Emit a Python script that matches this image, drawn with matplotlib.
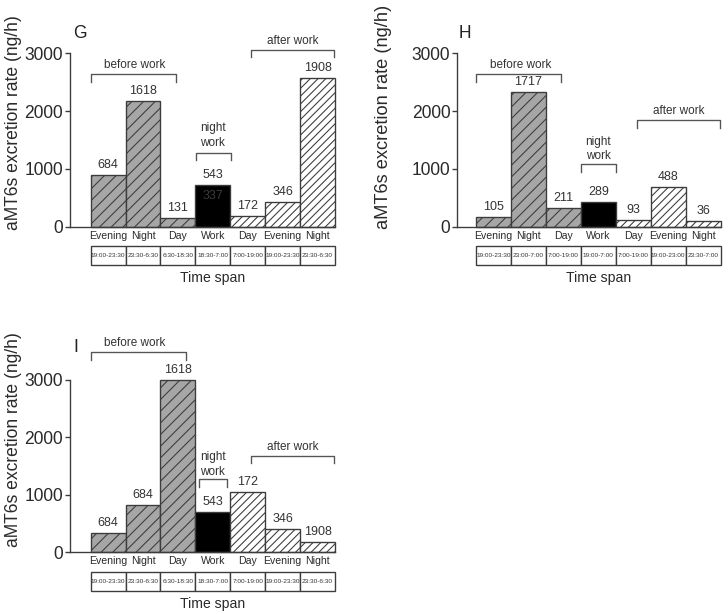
import matplotlib
matplotlib.use("Agg")
import matplotlib.pyplot as plt
from matplotlib.patches import Rectangle

W, H, DPI = 728, 614, 140

def pt(px):
    # pixel size -> points at this dpi
    return px * 72.0 / DPI

plt.rcParams['font.family'] = ['Liberation Sans', 'DejaVu Sans']
plt.rcParams['hatch.linewidth'] = 0.55

categories = ['Evening', 'Night', 'Day', 'Work', 'Day', 'Evening', 'Night']

# panel G
heights_g = [895, 2175, 155, 715, 190, 425, 2570]
labels_g = ['684', '1618', '131', '543', '172', '346', '1908']
spans_g = ['19:00-23:30', '23:30-6:30', '6:30-18:30', '18:30-7:00',
           '7:00-19:00', '19:00-23:30', '23:30-6:30']

# panel H
heights_h = [160, 2330, 315, 420, 110, 680, 98]
labels_h = ['105', '1717', '211', '289', '93', '488', '36']
spans_h = ['19:00-23:30', '23:00-7:00', '7:00-19:00', '19:00-7:00',
           '7:00-19:00', '19:00-23:00', '23:30-7:00']

# panel I
heights_i = [330, 818, 3000, 702, 1056, 400, 174]
labels_i = ['684', '684', '1618', '543', '172', '346', '1908']
spans_i = spans_g

# bar groups: before work (gray), night work (black), after work (white)
fills = ['#a6a6a6'] * 3 + ['black'] + ['white'] * 3
hatches = ['////'] * 3 + [None] + ['//////'] * 3

EDGE = '#3c3c3c'
LINE = '#555555'


def draw_panel(fig, box, xleft, heights, labels, spans, brackets, letter,
               letter_xy, ylab_xy, ylab_size, inner=None):
    left, top, right, bottom = box
    hpx = bottom - top
    ax = fig.add_axes([left / W, 1 - bottom / H, (right - left) / W, hpx / H])
    x = list(range(len(categories)))
    bars = ax.bar(x, heights, width=1.0, align='edge', color=fills,
                  edgecolor=EDGE, linewidth=0.7, clip_on=False)
    for b, h in zip(bars, hatches):
        if h:
            b.set_hatch(h)
    for xi, hv, lab in zip(x, heights, labels):
        ax.annotate(lab, (xi + 0.5, hv), xytext=(0, pt(10)),
                    textcoords='offset points', ha='center', va='center',
                    fontsize=pt(12.5), color='#333333')
    if inner:
        ax.text(3.5, inner[0], inner[1], ha='center', va='center',
                fontsize=pt(12.5), color='#3a3a3a')

    ax.set_xlim(xleft, 7)
    ax.set_ylim(0, 3000)
    for s in ['top', 'right']:
        ax.spines[s].set_visible(False)
    for s in ['left', 'bottom']:
        ax.spines[s].set_color(EDGE)
        ax.spines[s].set_linewidth(0.7)
    ax.set_yticks([0, 1000, 2000, 3000])
    ax.tick_params(axis='y', direction='out', length=pt(5), width=0.7,
                   color=EDGE, labelsize=pt(17.5), labelcolor='#2a2a2a',
                   pad=pt(2))
    ax.set_xticks([xi + 0.5 for xi in x])
    ax.set_xticklabels(categories)
    ax.tick_params(axis='x', length=0, pad=pt(4), labelsize=pt(10.5),
                   labelcolor='#2a2a2a')

    # time span boxes under the axis
    tr = ax.get_xaxis_transform()
    y0, y1 = -38.5 / hpx, -19.5 / hpx
    for xi, sp in zip(x, spans):
        ax.add_patch(Rectangle((xi, y0), 1, y1 - y0, transform=tr,
                               facecolor='white', edgecolor=EDGE,
                               linewidth=0.7, clip_on=False))
        ax.text(xi + 0.5, (y0 + y1) / 2, sp, transform=tr, ha='center',
                va='center', fontsize=pt(6.5), color='#333333',
                family=['Liberation Sans Narrow', 'Liberation Sans'])
    ax.text(3.5, -51.5 / hpx, 'Time span', transform=tr, ha='center',
            va='center', fontsize=pt(14), color='#2a2a2a')

    # brackets for before / night / after work
    for x0, x1, ytop, ytip, tx, texts in brackets:
        ax.plot([x0, x0, x1, x1], [ytip, ytop, ytop, ytip], color=LINE,
                linewidth=0.7, clip_on=False)
        for ty, t in texts:
            ax.text(tx, ty, t, ha='center', va='center',
                    fontsize=pt(11.8), color='#333333', clip_on=False)

    fig.text(letter_xy[0] / W, 1 - letter_xy[1] / H, letter,
             ha='center', va='center', fontsize=pt(17.5), color='#222222')
    fig.text(ylab_xy[0] / W, 1 - ylab_xy[1] / H,
             'aMT6s excretion rate (ng/h)', rotation=90, ha='center',
             va='center', fontsize=pt(ylab_size), color='#2a2a2a')
    return ax


fig = plt.figure(figsize=(W / DPI, H / DPI), dpi=DPI)

brackets_g = [
    (0.0, 2.44, 2643, 2510, 1.27, [(2799, 'before work')]),
    (3.01, 4.01, 1281, 1155, 3.5, [(1709, 'night'), (1449, 'work')]),
    (4.59, 6.97, 3059, 2938, 5.8, [(3220, 'after work')]),
]
draw_panel(fig, (70, 53.3, 335, 226.7), -0.59, heights_g, labels_g, spans_g,
           brackets_g, 'G', (80, 33), (14, 123), 17.5, inner=(531, '337'))

brackets_h = [
    (0.0, 2.43, 2643, 2505, 1.29, [(2799, 'before work')]),
    (3.0, 4.0, 1085, 947, 3.5, [(1466, 'night'), (1224, 'work')]),
    (4.6, 6.98, 1847, 1709, 5.8, [(2003, 'after work')]),
]
draw_panel(fig, (457.3, 53.3, 720.7, 226.7), -0.535, heights_h, labels_h,
           spans_h, brackets_h, 'H', (465, 33), (384, 117), 18.2)

brackets_i = [
    (0.0, 2.72, 3482, 3348, 1.27, [(3644, 'before work')]),
    (3.1, 3.91, 1271, 1142, 3.5, [(1664, 'night'), (1403, 'work')]),
    (4.59, 6.98, 1682, 1550, 5.8, [(1839, 'after work')]),
]
draw_panel(fig, (70, 380, 335, 552.3), -0.59, heights_i, labels_i, spans_i,
           brackets_i, 'I', (76, 348), (14, 440), 17.5)

fig.savefig('out.png', dpi=DPI, facecolor='white')
